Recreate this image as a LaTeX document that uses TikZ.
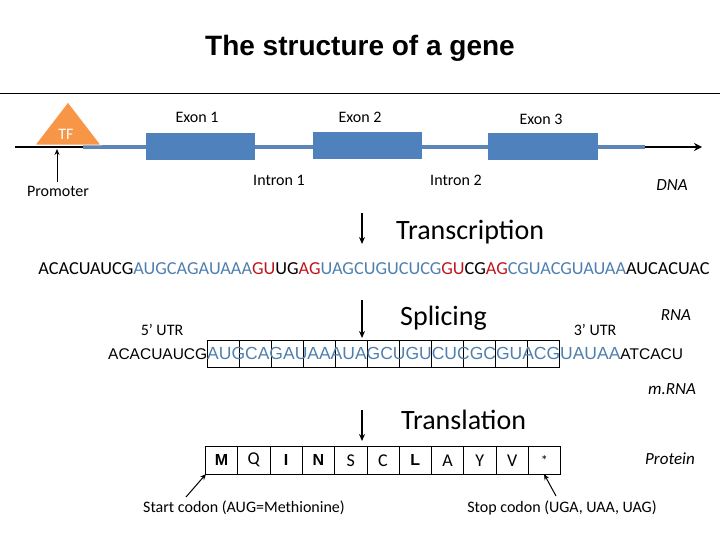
\documentclass[tikz,border=0pt]{standalone}
\usepackage{fontspec}
\setmainfont{Carlito}
\newfontfamily\arialf{Liberation Sans}
\usetikzlibrary{arrows.meta}
\definecolor{exblue}{HTML}{4F81BD}
\definecolor{lnblue}{HTML}{5B86B5}
\definecolor{seqblue}{HTML}{4F7FAF}
\definecolor{tforange}{HTML}{F79646}
\definecolor{rd}{HTML}{C0141C}
\begin{document}
\begin{tikzpicture}[x=1pt,y=-1pt,
  lbl/.style={font=\fontsize{16}{18}\selectfont, inner sep=0},
  ilbl/.style={font=\itshape\fontsize{17}{19}\selectfont, inner sep=0},
  big/.style={font=\fontsize{28}{32}\selectfont, inner sep=0},
  exon/.style={fill=exblue, draw=none},
  steparrow/.style={-{Stealth[length=7pt,width=6pt]}, line width=1.3pt},
  cell/.style={draw, line width=0.6pt, minimum width=32pt, minimum height=27pt, inner sep=0, anchor=north west},
  pa/.style={-{Stealth[length=6pt,width=5pt]}, line width=1pt},
  aa/.style={font=\fontsize{18}{20}\selectfont},
  aab/.style={font=\arialf\bfseries\fontsize{16}{18}\selectfont}]
\useasboundingbox (0,0) rectangle (720,540);
\node[font=\arialf\bfseries\fontsize{28}{32}\selectfont] (title) at (360,48) {The structure of a gene};
\draw[line width=0.8pt] (0,93) -- (720,93);
% DNA
\coordinate (l0) at (15,147); \coordinate (l1) at (83,147); \coordinate (l2) at (645,147); \coordinate (l3) at (702,147);
\draw[line width=2.5pt] (l0) -- (l1);
\draw[lnblue, line width=4pt] (l1) -- (l2);
\draw[line width=2.5pt, -{Stealth[length=8pt,width=8pt]}] (l2) -- (l3);
\fill[exon] (146,133) rectangle (255,160) coordinate (e1);
\fill[exon] (313,132) rectangle (422,159) coordinate (e2);
\fill[exon] (488,133) rectangle (598,160) coordinate (e3);
\filldraw[fill=tforange, draw=white, line width=0.8pt] (35,145) -- (68,102) -- (101,145) -- cycle;
\node[text=white, lbl] (tf) at (66,134) {TF};
\coordinate (pb) at (57,182); \coordinate (pt) at (57,149);
\draw[pa] (pb) -- (pt);
\node[lbl] (ex1) at (197,117) {Exon 1};
\node[lbl] (ex2) at (360,117) {Exon 2};
\node[lbl] (ex3) at (541,119) {Exon 3};
\node[lbl] (in1) at (279,180) {Intron 1};
\node[lbl] (in2) at (456,180) {Intron 2};
\node[ilbl] (dna) at (672,185) {DNA};
\node[lbl] (prom) at (58,191) {Promoter};
% transcription
\coordinate (t0) at (362,213); \coordinate (t1) at (362,244);
\draw[steparrow] (t0) -- (t1);
\node[big, anchor=west] (trans) at (396,232) {Transcription};
\node[inner sep=0, font=\fontsize{18.3}{20}\selectfont] (seq) at (374,269) {ACACUAUCG\textcolor{seqblue}{AUGCAGAUAAA}\textcolor{rd}{GU}UG\textcolor{rd}{AG}\textcolor{seqblue}{UAGCUGUCUCG}\textcolor{rd}{GU}CG\textcolor{rd}{AG}\textcolor{seqblue}{CGUACGUAUAA}AUCACUAC};
% splicing
\coordinate (s0) at (362,300); \coordinate (s1) at (362,338);
\draw[steparrow] (s0) -- (s1);
\node[big, anchor=west] (spl) at (400,318) {Splicing};
\node[ilbl] (rna) at (676,315) {RNA};
\node[lbl] (u5) at (162,330) {5’ UTR};
\node[lbl] (u3) at (595,330) {3’ UTR};
\foreach \i in {0,...,10} \node[cell] (m\i) at (207+\i*32,340) {};
\node[inner sep=0, anchor=west, font=\arialf\fontsize{15.5}{18}\selectfont] (mrna) at (108,353) {ACACUAUCG\textcolor{seqblue}{\fontsize{17.5}{18}\selectfont AUGCAGAUAAAUAGCUGUCUCGCGUACGUAUAA}ATCACU};
\node[ilbl] (mr) at (672,389) {m.RNA};
% translation
\coordinate (r0) at (362,410); \coordinate (r1) at (362,441);
\draw[steparrow] (r0) -- (r1);
\node[big, anchor=west] (trl) at (401,420) {Translation};
\foreach \i in {0,...,10}
  \node[cell, minimum width=32.3pt, minimum height=28pt] (p\i) at (205+\i*32.3,446) {};
\node[aab] at (p0) {M};
\node[aa] at (p1) {Q};
\node[aab] at (p2) {I};
\node[aab] at (p3) {N};
\node[aa] at (p4) {S};
\node[aa] at (p5) {C};
\node[aab] at (p6) {L};
\node[aa] at (p7) {A};
\node[aa] at (p8) {Y};
\node[aa] at (p9) {V};
\node[font=\fontsize{14}{15}\selectfont] at (p10) {*};
\node[ilbl] (prot) at (670,459) {Protein};
\node[lbl] (start) at (244,508) {Start codon (AUG=Methionine)};
\node[lbl] (stop) at (562,508) {Stop codon (UGA, UAA, UAG)};
\coordinate (sa) at (186,497); \coordinate (sb) at (206,474);
\draw[pa] (sa) -- (sb);
\coordinate (ta) at (556,496); \coordinate (tb) at (544,474);
\draw[pa] (ta) -- (tb);
\end{tikzpicture}
\end{document}
